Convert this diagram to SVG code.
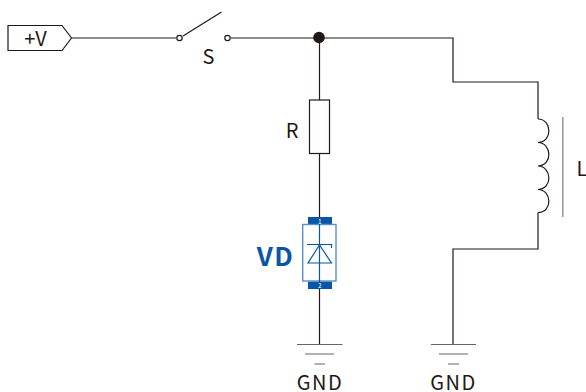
<svg xmlns="http://www.w3.org/2000/svg" width="586" height="392" viewBox="0 0 586 392">
<style>
.w{fill:none;stroke:#231815;stroke-width:1.2}
.g{fill:none;stroke:#6a6463;stroke-width:1.2}
.t{font-family:"Noto Sans CJK SC","Noto Sans",sans-serif;font-size:20px;fill:#231815}
.b{fill:none;stroke:#5b8fc9;stroke-width:1.4}
.d{fill:none;stroke:#0a56a6;stroke-width:1.2}
</style>
<rect width="586" height="392" fill="#fff"/>
<g id="connectors">
<path class="w" d="M72 38H176"/>
<path class="w" d="M183 36L221.500 12"/>
<path class="w" d="M231 38H453V82H538V119"/>
<path class="w" d="M319.500 38V100"/>
<path class="w" d="M319.500 153.500V217"/>
<path class="w" d="M319.500 289V344"/>
<path class="w" d="M538 212.500V249H453V344"/>
</g>
<g id="source">
<path class="w" d="M8 25.500H62L71.500 38L62 50.500H8Z"/>
<text class="t" x="35.500" y="45.500" text-anchor="middle">+V</text>
</g>
<g id="switch">
<circle class="w" cx="179.500" cy="38" r="2.700"/>
<circle class="w" cx="227.500" cy="38" r="2.700"/>
<text class="t" x="208.500" y="64" text-anchor="middle">S</text>
</g>
<g id="junction"><circle cx="319" cy="37.500" r="5.800" fill="#231815"/></g>
<g id="resistor">
<rect class="w" x="309.500" y="100" width="20" height="53.500" fill="#fff"/>
<text class="t" x="292" y="137.500" text-anchor="middle">R</text>
</g>
<g id="diode">
<rect x="308" y="217" width="24" height="7.500" fill="#0a56a6"/>
<rect x="308" y="281.500" width="24" height="7.500" fill="#0a56a6"/>
<rect class="b" x="302.700" y="224.500" width="33.300" height="56.500"/>
<path class="d" d="M319.500 217V289"/>
<path class="d" d="M307 244.500H331.500V248M319.500 245L308 263H331.500Z"/>
<text x="319.700" y="223.500" text-anchor="middle" font-family="Noto Sans CJK SC,sans-serif" font-size="6.500" fill="#fff">1</text>
<text x="319.700" y="288" text-anchor="middle" font-family="Noto Sans CJK SC,sans-serif" font-size="6.500" fill="#fff">2</text>
<text x="275.500" y="265.500" text-anchor="middle" font-family="Noto Sans CJK SC,sans-serif" font-size="26px" font-weight="700" letter-spacing="1.500" fill="#0a56a6">VD</text>
</g>
<g id="inductor">
<path class="w" d="M538 119C552 119 553 142 538 142.500C552 143 553 165.500 538 166C552 166.500 553 189 538 189.500C552 190 553 212 538 212.500"/>
<path d="M562.800 117V217" fill="none" stroke="#8a8685" stroke-width="1.300"/>
<text class="t" x="582" y="176" text-anchor="middle">L</text>
</g>
<g id="gnd1">
<path class="g" d="M297 344.500H342.500M305 354H334M314.500 364H325"/>
<text class="t" x="320" y="390" text-anchor="middle" letter-spacing="1.500">GND</text>
</g>
<g id="gnd2">
<path class="g" d="M431 344.500H476M439 354H468M448 364H459"/>
<text class="t" x="453.500" y="390" text-anchor="middle" letter-spacing="1.500">GND</text>
</g>
</svg>
